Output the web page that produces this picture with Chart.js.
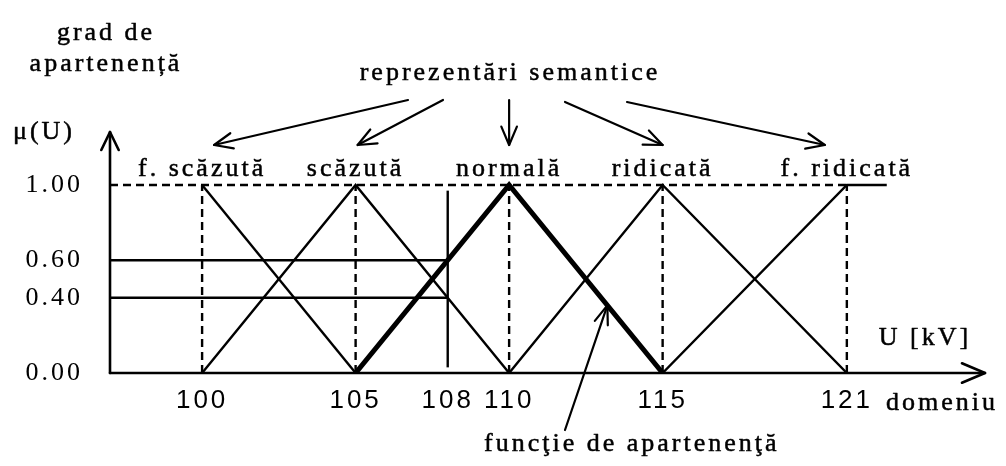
<!DOCTYPE html>
<html lang="ro">
<head>
<meta charset="utf-8">
<script src="https://cdn.jsdelivr.net/npm/chart.js@4.4.1/dist/chart.umd.min.js"></script>
<style>
  html, body { margin: 0; padding: 0; background: #fff; }
  #wrap { width: 1006px; height: 466px; position: relative; }
</style>
</head>
<body>
<div id="wrap"><canvas id="grafic"></canvas></div>
<script>
// domeniul tensiunii (kV) si gradele de apartenenta
const uFScazuta = [100, 105];        const muFScazuta = [1, 0];
const uScazuta = [100, 105, 110];    const muScazuta = [0, 1, 0];
const uNormala = [105, 110, 115];    const muNormala = [0, 1, 0];
const uRidicata = [110, 115, 121];   const muRidicata = [0, 1, 0];
const uFRidicata = [115, 121, 122.3]; const muFRidicata = [0, 1, 1];

// valoarea citita: U = 108 kV -> normala 0.60, scazuta 0.40
const uCitire = 108;
const muCitire = [0.6, 0.4];

const varfuri = [100, 105, 110, 115, 121];
const etichete = ['f. scăzută', 'scăzută', 'normală', 'ridicată', 'f. ridicată'];
const xTicks = [100, 105, 108, 110, 115, 121];
const yTicks = [0, 0.4, 0.6, 1];

const serif = '"Liberation Serif", "DejaVu Serif", serif';
const sans = '"Liberation Sans", Arial, sans-serif';

function linie(u, mu, extra) {
  return Object.assign({
    data: u.map((x, i) => ({ x: x, y: mu[i] })),
    showLine: true,
    pointRadius: 0,
    borderColor: '#000',
    borderWidth: 2.4,
    fill: false,
    tension: 0
  }, extra || {});
}

const dash = { borderDash: [8, 5], borderWidth: 2.4 };

let datasets = [
  linie(uNormala, muNormala, { borderWidth: 5 }),
  linie(uFScazuta, muFScazuta),
  linie(uScazuta, muScazuta),
  linie(uRidicata, muRidicata),
  linie(uFRidicata, muFRidicata),
  // linia punctata de la mu = 1
  linie([97, 121], [1, 1], dash)
];
varfuri.forEach(v => datasets.push(linie([v, v], [0, 1], dash)));
// citirea la 108 kV
muCitire.forEach(m => datasets.push(linie([97, uCitire], [m, m])));
datasets.push(linie([uCitire, uCitire], [0.03, 0.97]));

function sageata(ctx, x1, y1, x2, y2, len, half) {
  ctx.beginPath();
  ctx.moveTo(x1, y1);
  ctx.lineTo(x2, y2);
  ctx.stroke();
  const a = Math.atan2(y2 - y1, x2 - x1);
  ctx.beginPath();
  ctx.moveTo(x2 - len * Math.cos(a - half), y2 - len * Math.sin(a - half));
  ctx.lineTo(x2, y2);
  ctx.lineTo(x2 - len * Math.cos(a + half), y2 - len * Math.sin(a + half));
  ctx.stroke();
}

const spatiere = {
  id: 'spatiere',
  beforeDraw(chart) { chart.ctx.letterSpacing = '3px'; }
};

function text(ctx, t, x, y) {
  ctx.fillText(t, x, y);
  ctx.strokeText(t, x, y);
}

const adnotari = {
  id: 'adnotari',
  afterDraw(chart) {
    const ctx = chart.ctx;
    const a = chart.chartArea;
    const xs = chart.scales.x, ys = chart.scales.y;
    ctx.save();
    ctx.strokeStyle = '#000';
    ctx.fillStyle = '#000';
    ctx.lineWidth = 2.6;
    ctx.lineCap = 'round';
    ctx.lineJoin = 'round';

    // axe cu sageti
    sageata(ctx, a.left, a.bottom, a.left, a.top, 20, 0.45);
    sageata(ctx, a.left, a.bottom, a.right, a.bottom, 25, 0.4);

    ctx.letterSpacing = '3px';
    ctx.font = '26px ' + serif;
    ctx.lineWidth = 0.5;
    ctx.textBaseline = 'alphabetic';
    ctx.textAlign = 'center';
    text(ctx, 'grad de', 106, 40);
    text(ctx, 'apartenență', 106, 71);
    text(ctx, 'μ(U)', 44, 139);
    text(ctx, 'reprezentări semantice', 510, 80);
    text(ctx, 'U [kV]', 925, 345);
    ctx.textAlign = 'left';
    text(ctx, 'domeniu', 886, 410);
    text(ctx, 'funcţie de apartenenţă', 484, 451);

    // etichetele multimilor fuzzy
    ctx.textAlign = 'center';
    const yVarf = ys.getPixelForValue(1);
    const pozEt = varfuri.map(v => xs.getPixelForValue(v));
    etichete.forEach((t, i) => text(ctx, t, pozEt[i], yVarf - 9));

    // sageti de la "reprezentari semantice"
    ctx.lineWidth = 2.2;
    const start = [[408, 100], [443, 100], [pozEt[2], 100], [565, 102], [627, 102]];
    const dx = [12, 2, 0, 0, -22];
    start.forEach((s, i) => sageata(ctx, s[0], s[1], pozEt[i] + dx[i], 145, 20, 0.4));

    // sageata "functie de apartenenta"
    const tx = xs.getPixelForValue(113.2), ty = ys.getPixelForValue(0.36);
    sageata(ctx, 565, 430, tx, ty, 20, 0.35);
    ctx.restore();
  }
};

new Chart(document.getElementById('grafic'), {
  type: 'scatter',
  data: { datasets: datasets },
  options: {
    responsive: true,
    maintainAspectRatio: false,
    animation: false,
    layout: { padding: { top: 132, right: 21, left: 0, bottom: 0 } },
    plugins: { legend: { display: false }, tooltip: { enabled: false } },
    scales: {
      x: {
        type: 'linear',
        min: 97,
        max: 125.5,
        afterFit: s => { s.height = 93; },
        afterBuildTicks: s => { s.ticks = xTicks.map(v => ({ value: v })); },
        grid: { display: false, drawTicks: false },
        border: { display: false },
        ticks: {
          autoSkip: false,
          maxRotation: 0,
          padding: 12,
          color: '#000',
          font: { family: sans, size: 26 },
          callback: v => String(v)
        }
      },
      y: {
        type: 'linear',
        min: 0,
        max: 1.282,
        afterFit: s => { s.width = 110; },
        afterBuildTicks: s => { s.ticks = yTicks.map(v => ({ value: v })); },
        grid: { display: false, drawTicks: false },
        border: { display: false },
        ticks: {
          padding: 27,
          color: '#000',
          font: { family: serif, size: 26 },
          callback: v => Number(v).toFixed(2)
        }
      }
    }
  },
  plugins: [spatiere, adnotari]
});
</script>
</body>
</html>
